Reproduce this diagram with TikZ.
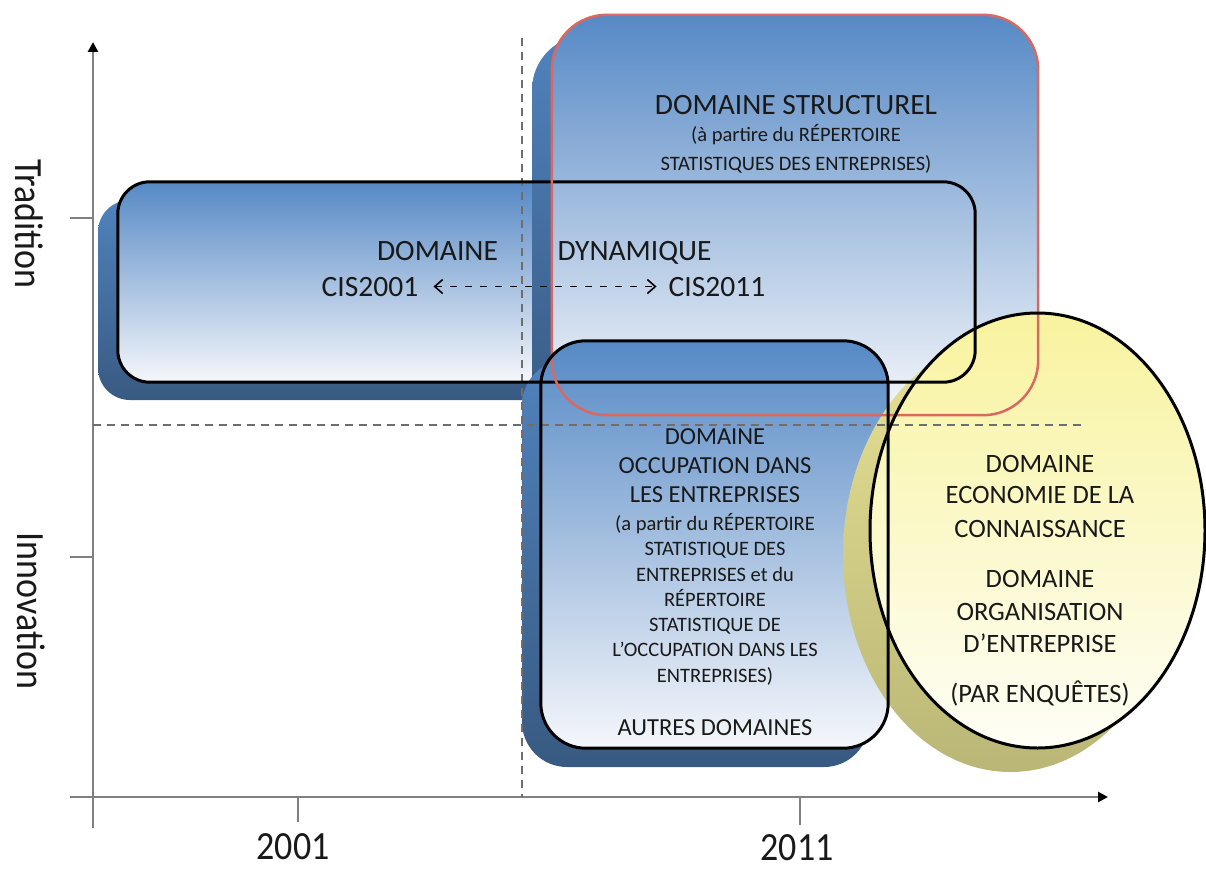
\documentclass[tikz,border=0pt]{standalone}
\usepackage{fontspec}
\setmainfont{Carlito}
\newfontfamily\narrowfont{Carlito}[FakeStretch=0.9]
\usetikzlibrary{arrows.meta,shapes.geometric}
\definecolor{boxtop}{RGB}{86,137,197}
\definecolor{boxbot}{RGB}{245,247,251}
\definecolor{shadtop}{RGB}{80,130,188}
\definecolor{shadbot}{RGB}{56,90,130}
\definecolor{redline}{RGB}{217,104,96}
\definecolor{yeltop}{RGB}{248,243,158}
\definecolor{yelbot}{RGB}{254,254,246}
\definecolor{yshadtop}{RGB}{230,225,148}
\definecolor{yshadbot}{RGB}{186,182,118}
\definecolor{axisgray}{RGB}{128,128,128}
\definecolor{dashgray}{RGB}{110,110,110}
\definecolor{txt}{RGB}{25,25,25}
\begin{document}
\begin{tikzpicture}[x=1pt,y=-1pt,
  bluebox/.style={rectangle, inner sep=0pt, top color=boxtop, bottom color=boxbot, draw=none},
  shadowbox/.style={rectangle, inner sep=0pt, top color=shadtop, bottom color=shadbot, draw=none},
  blackline/.style={draw=black, line width=3pt},
  redoutline/.style={draw=redline, line width=2.5pt},
  axisline/.style={draw=axisgray, line width=2.5pt},
  tickline/.style={draw=axisgray, line width=2pt},
  guide/.style={draw=dashgray, line width=2pt, dash pattern=on 8pt off 6pt},
  bigtxt/.style={font=\fontsize{29.5}{35}\selectfont, inner sep=0pt, anchor=base, text=txt},
  midtxt/.style={font=\fontsize{24.5}{29}\selectfont, inner sep=0pt, anchor=base, text=txt},
  ellitxt/.style={font=\fontsize{26.5}{31}\selectfont, inner sep=0pt, anchor=base, text=txt},
  smalltxt/.style={font=\fontsize{20.5}{25}\selectfont, inner sep=0pt, anchor=base, text=txt},
  axistxt/.style={font=\narrowfont\fontsize{40}{46}\selectfont, inner sep=0pt, text=txt},
  cisarrow/.style={draw=black, line width=1.6pt, dash pattern=on 7pt off 8pt,
     {Straight Barb[length=8pt,width=14pt]}-{Straight Barb[length=8pt,width=14pt]}}
]
\useasboundingbox (0,0) rectangle (1206,869);
\fill[white] (0,0) rectangle (1206,869);

% DYNAMIQUE box
\node[shadowbox, rounded corners=32pt, minimum width=857pt, minimum height=200pt] (dynshadow) at (526.5,300) {};
\node[bluebox, rounded corners=32pt, minimum width=857pt, minimum height=200pt] (dyn) at (546.5,282) {};

% STRUCTUREL box
\node[shadowbox, rounded corners=55pt, minimum width=486pt, minimum height=400pt] (structshadow) at (775,235) {};
\node[bluebox, rounded corners=55pt, minimum width=486pt, minimum height=400pt] (struct) at (795,215) {};

% OCCUPATION box
\node[shadowbox, rounded corners=45pt, minimum width=347pt, minimum height=407pt] (occshadow) at (695.5,563.5) {};
\node[bluebox, rounded corners=45pt, minimum width=347pt, minimum height=407pt] (occ) at (714.5,544.5) {};

% ECONOMIE ellipse
\node[ellipse, inner sep=0pt, minimum width=335pt, minimum height=435pt, top color=yshadtop, bottom color=yshadbot, draw=none] (econshadow) at (1010.5,554.5) {};
\node[ellipse, inner sep=0pt, minimum width=335pt, minimum height=435pt, top color=yeltop, bottom color=yelbot, draw=none] (econ) at (1037.5,530.5) {};

% axes
\coordinate (ybot) at (93,828);
\coordinate (ytop) at (93,42);
\coordinate (xleft) at (70,797);
\coordinate (xright) at (1108,797);
\draw[axisline, -{Triangle[length=10pt,width=10pt,color=black]}] (ybot) -- (ytop);
\draw[axisline, -{Triangle[length=10pt,width=10pt,color=black]}] (xleft) -- (xright);
\coordinate (t1a) at (70,218); \coordinate (t1b) at (93,218);
\coordinate (t2a) at (70,557); \coordinate (t2b) at (93,557);
\coordinate (t3a) at (298,797); \coordinate (t3b) at (298,822);
\coordinate (t4a) at (800,797); \coordinate (t4b) at (800,825);
\draw[tickline] (t1a) -- (t1b);
\draw[tickline] (t2a) -- (t2b);
\draw[tickline] (t3a) -- (t3b);
\draw[tickline] (t4a) -- (t4b);

\node[axistxt, rotate=-90] (tradition) at (29,224) {Tradition};
\node[axistxt, rotate=-90] (innovation) at (31.5,611) {Innovation};
\node[axistxt, anchor=base] (y2001) at (293,859) {2001};
\node[axistxt, anchor=base] (y2011) at (797,860) {2011};

% guide lines
\coordinate (vdtop) at (522,38);
\coordinate (vdbot) at (522,797);
\coordinate (hdleft) at (93,425);
\coordinate (hdright) at (1085,425);
\draw[guide] (vdtop) -- (vdbot);
\draw[guide] (hdleft) -- (hdright);

% outlines
\draw[blackline, rounded corners=32pt] (dyn.north west) rectangle (dyn.south east);
\draw[redoutline, rounded corners=55pt] (struct.north west) rectangle (struct.south east);
\draw[blackline, rounded corners=45pt] (occ.north west) rectangle (occ.south east);
\draw[blackline] (econ.center) ellipse [x radius=167.5, y radius=217.5];

% STRUCTUREL text
\node[bigtxt] (sttitle) at (796,114.5) {DOMAINE STRUCTUREL};
\node[smalltxt] (stsub1) at (796,141.5) {(à partire du RÉPERTOIRE};
\node[smalltxt] (stsub2) at (796,170.5) {STATISTIQUES DES ENTREPRISES)};

% DYNAMIQUE text
\node[bigtxt] (dom1) at (437.5,260) {DOMAINE};
\node[bigtxt] (dyna) at (634.5,260) {DYNAMIQUE};
\node[bigtxt] (cis1) at (370,296) {CIS2001};
\node[bigtxt] (cis2) at (717,296) {CIS2011};
\draw[cisarrow, shorten <=15pt, shorten >=12pt] (cis1.east) -- (cis2.west);

% OCCUPATION text
\node[midtxt] (oc1) at (715,444) {DOMAINE};
\node[midtxt] (oc2) at (715,473) {OCCUPATION DANS};
\node[midtxt] (oc3) at (715,502) {LES ENTREPRISES};
\node[smalltxt] (os1) at (715,530) {(a partir du RÉPERTOIRE};
\node[smalltxt] (os2) at (715,555.5) {STATISTIQUE DES};
\node[smalltxt] (os3) at (715,581) {ENTREPRISES et du};
\node[smalltxt] (os4) at (715,606) {RÉPERTOIRE};
\node[smalltxt] (os5) at (715,631) {STATISTIQUE DE};
\node[smalltxt] (os6) at (715,656.5) {L’OCCUPATION DANS LES};
\node[smalltxt] (os7) at (715,682) {ENTREPRISES)};
\node[midtxt] (oc4) at (715,735) {AUTRES DOMAINES};

% ECONOMIE text
\node[ellitxt] (ec1) at (1040,472) {DOMAINE};
\node[ellitxt] (ec2) at (1040,503.5) {ECONOMIE DE LA};
\node[ellitxt] (ec3) at (1040,537) {CONNAISSANCE};
\node[ellitxt] (ec4) at (1040,587) {DOMAINE};
\node[ellitxt] (ec5) at (1040,620.5) {ORGANISATION};
\node[ellitxt] (ec6) at (1040,652) {D’ENTREPRISE};
\node[ellitxt] (ec7) at (1040,702) {(PAR ENQUÊTES)};
\end{tikzpicture}
\end{document}
